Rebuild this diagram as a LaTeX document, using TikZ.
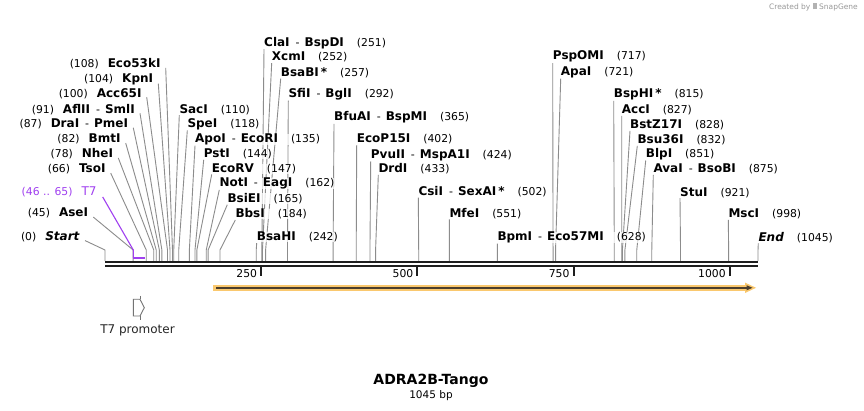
\documentclass[tikz,border=0pt]{standalone}
\usepackage{fontspec}
\setmainfont{DejaVu Sans}
\usetikzlibrary{backgrounds}
\pgfdeclarelayer{paper}
\pgfsetlayers{paper,background,main}
\definecolor{leadc}{gray}{0.55}
\definecolor{purp}{RGB}{160,64,240}
\definecolor{orng}{RGB}{250,200,110}
\definecolor{dcore}{RGB}{75,62,45}
\definecolor{bbc}{RGB}{30,30,30}
\definecolor{promc}{gray}{0.45}
\newcommand\enzN[1]{{\fontsize{10.8}{13}\selectfont(#1)}}
\newcommand\enzB[1]{\textbf{#1}}
\newcommand\gapR{\hspace{13pt}}
\newcommand\gapL{\hspace{9pt}}
\newcommand\enzD{\hspace{6pt}{\fontsize{11}{13}\selectfont-}\hspace{5pt}}
\tikzset{
  lab/.style={inner sep=0pt, font=\fontsize{12}{14}\selectfont, fill=white, fill opacity=0.75, text opacity=1},
  leader/.style={draw=leadc, line width=0.9pt},
  backbone/.style={draw=bbc, line width=2.4pt},
  ticklab/.style={inner sep=0pt, anchor=east, font=\fontsize{10.8}{13}\selectfont}
}
% right-side label: name, bp, x, y, content
\newcommand\rlab[5]{%
  \node[lab,anchor=west] (#1) at (#3,#4) {#5};
  \coordinate (#1k) at ({105+0.6249*#2},250);
  \coordinate (#1s) at ({105+0.6249*#2},261);
  \begin{pgfonlayer}{background}
  \draw[leader] ([yshift=-0.5pt]#1.south west) -- (#1k) -- (#1s);
  \end{pgfonlayer}
}
% left-side label
\newcommand\llab[5]{%
  \node[lab,anchor=east] (#1) at (#3,#4) {#5};
  \coordinate (#1k) at ({105+0.6249*#2},250);
  \coordinate (#1s) at ({105+0.6249*#2},261);
  \begin{pgfonlayer}{background}
  \draw[leader] ([xshift=5pt,yshift=1.5pt]#1.south east) -- (#1k) -- (#1s);
  \end{pgfonlayer}
}
\begin{document}
\begin{tikzpicture}[x=1pt,y=-1pt]
\useasboundingbox (0,0) rectangle (864,411);
\begin{pgfonlayer}{paper}
\fill[white] (0,0) rectangle (864,411);
\end{pgfonlayer}

% left-side labels
\llab{eco53}{108}{160.7}{64}{\enzN{108}\gapL\enzB{Eco53kI}}
\llab{kpn}{104}{153.3}{79.3}{\enzN{104}\gapL\enzB{KpnI}}
\llab{acc65}{100}{141.7}{93.3}{\enzN{100}\gapL\enzB{Acc65I}}
\llab{afl}{91}{135}{109.3}{\enzN{91}\gapL\enzB{AflII}\enzD\enzB{SmlI}}
\llab{dra}{87}{128.3}{124}{\enzN{87}\gapL\enzB{DraI}\enzD\enzB{PmeI}}
\llab{bmt}{82}{120.7}{139.3}{\enzN{82}\gapL\enzB{BmtI}}
\llab{nhe}{78}{113.3}{154}{\enzN{78}\gapL\enzB{NheI}}
\llab{tso}{66}{105.7}{169.3}{\enzN{66}\gapL\enzB{TsoI}}
\llab{ase}{45}{88.3}{213.3}{\enzN{45}\gapL\enzB{AseI}}
\llab{start}{0}{80}{236.7}{\enzN{0}\gapL\textbf{\textit{Start}}}

% T7 feature label
\node[lab,anchor=east,text=purp] (t7) at (96.7,191.7) {\enzN{46 .. 65}\gapL T7};
\coordinate (t7k) at (133.3,250);
\coordinate (t7a) at (133.3,258);
\coordinate (t7b) at (145.2,258);
\draw[purp, line width=1.1pt] ([xshift=6pt]t7.south east) -- (t7k) -- (t7a);
\draw[purp, line width=2.4pt] (t7a) -- (t7b);

% right-side labels
\rlab{sac}{110}{179.3}{109.3}{\enzB{SacI}\gapR\enzN{110}}
\rlab{spe}{118}{187.3}{124}{\enzB{SpeI}\gapR\enzN{118}}
\rlab{apo}{135}{195}{139.3}{\enzB{ApoI}\enzD\enzB{EcoRI}\gapR\enzN{135}}
\rlab{pst}{144}{203.7}{154}{\enzB{PstI}\gapR\enzN{144}}
\rlab{ecorv}{147}{211.7}{168.7}{\enzB{EcoRV}\gapR\enzN{147}}
\rlab{notI}{162}{219.3}{183.5}{\enzB{NotI}\enzD\enzB{EagI}\gapR\enzN{162}}
\rlab{bsie}{165}{227.3}{198.7}{\enzB{BsiEI}\gapR\enzN{165}}
\rlab{bbs}{184}{235.3}{214}{\enzB{BbsI}\gapR\enzN{184}}
\rlab{bsah}{242}{256.7}{237.3}{\enzB{BsaHI}\gapR\enzN{242}}
\rlab{cla}{251}{264}{42.7}{\enzB{ClaI}\enzD\enzB{BspDI}\gapR\enzN{251}}
\rlab{xcm}{252}{271.7}{57.3}{\enzB{XcmI}\gapR\enzN{252}}
\rlab{bsab}{257}{280.7}{72.7}{\enzB{BsaBI\,*}\gapR\enzN{257}}
\rlab{sfi}{292}{288.3}{94}{\enzB{SfiI}\enzD\enzB{BglI}\gapR\enzN{292}}
\rlab{bfu}{365}{334}{117.3}{\enzB{BfuAI}\enzD\enzB{BspMI}\gapR\enzN{365}}
\rlab{ecop}{402}{356.7}{139.3}{\enzB{EcoP15I}\gapR\enzN{402}}
\rlab{pvu}{424}{370.7}{155}{\enzB{PvuII}\enzD\enzB{MspA1I}\gapR\enzN{424}}
\rlab{drd}{433}{378.3}{169}{\enzB{DrdI}\gapR\enzN{433}}
\rlab{csi}{502}{418.3}{191.7}{\enzB{CsiI}\enzD\enzB{SexAI\,*}\gapR\enzN{502}}
\rlab{mfe}{551}{449.3}{213.3}{\enzB{MfeI}\gapR\enzN{551}}
\rlab{bpm}{628}{497.3}{237.3}{\enzB{BpmI}\enzD\enzB{Eco57MI}\gapR\enzN{628}}
\rlab{pspo}{717}{552.7}{56.7}{\enzB{PspOMI}\gapR\enzN{717}}
\rlab{apa}{721}{560.7}{72.3}{\enzB{ApaI}\gapR\enzN{721}}
\rlab{bsph}{815}{613.7}{94.5}{\enzB{BspHI\,*}\gapR\enzN{815}}
\rlab{accI}{827}{621.7}{110}{\enzB{AccI}\gapR\enzN{827}}
\rlab{bstz}{828}{630}{125}{\enzB{BstZ17I}\gapR\enzN{828}}
\rlab{bsu}{832}{637.3}{140}{\enzB{Bsu36I}\gapR\enzN{832}}
\rlab{blp}{851}{645.7}{154}{\enzB{BlpI}\gapR\enzN{851}}
\rlab{ava}{875}{653.3}{169}{\enzB{AvaI}\enzD\enzB{BsoBI}\gapR\enzN{875}}
\rlab{stu}{921}{680}{192.3}{\enzB{StuI}\gapR\enzN{921}}
\rlab{msc}{998}{728.3}{214}{\enzB{MscI}\gapR\enzN{998}}
\rlab{endl}{1045}{758.3}{237.3}{\textbf{\textit{End}}\gapR\enzN{1045}}

% backbone
\coordinate (bbL1) at (105,262.3);
\coordinate (bbR1) at (758.3,262.3);
\coordinate (bbL2) at (105,265.9);
\coordinate (bbR2) at (758.3,265.9);
\draw[backbone] (bbL1) -- (bbR1);
\draw[backbone] (bbL2) -- (bbR2);

% ticks
\foreach \t [count=\i] in {250,500,750,1000}{
  \coordinate (tka\i) at ({105+0.6249*\t},266.5);
  \coordinate (tkb\i) at ({105+0.6249*\t},276);
  \draw[bbc, line width=2pt] (tka\i) -- (tkb\i);
  \node[ticklab] (tk\i) at ({101+0.6249*\t},273.8) {\t};
}

% orange feature
\fill[orng] (213.3,285) rectangle (747,290.6);
\fill[orng] (745,282.6) -- (756,287.8) -- (745,293) -- cycle;
\fill[dcore] (215.5,286.8) rectangle (748,288.8);
\fill[dcore] (746.5,285.2) -- (752.5,287.8) -- (746.5,290.4) -- cycle;

% T7 promoter symbol
\draw[promc, line width=0.9pt, line join=miter]
  (133.3,299.3) -- (140,299.3) -- (144.3,307.7) -- (140,316) -- (133.3,316) -- cycle;
\draw[promc, line width=0.9pt] (140,296) -- (140,299.3) (140,316) -- (140,320);
\node[inner sep=0pt, text=black!85, font=\fontsize{12}{14}\selectfont] (t7p) at (137.5,330) {T7 promoter};

% title
\node[inner sep=0pt, font=\bfseries\fontsize{14}{16}\selectfont] (title) at (431,380.7) {ADRA2B-Tango};
\node[inner sep=0pt, font=\fontsize{10.5}{12}\selectfont] (len) at (431,395.5) {1045 bp};

% credit
\node[inner sep=0pt, anchor=east, text=gray!80, font=\fontsize{7.5}{9}\selectfont] (credit) at (858,7) {Created by \textcolor{gray!60}{\rule{4pt}{6pt}} SnapGene};
\end{tikzpicture}
\end{document}
